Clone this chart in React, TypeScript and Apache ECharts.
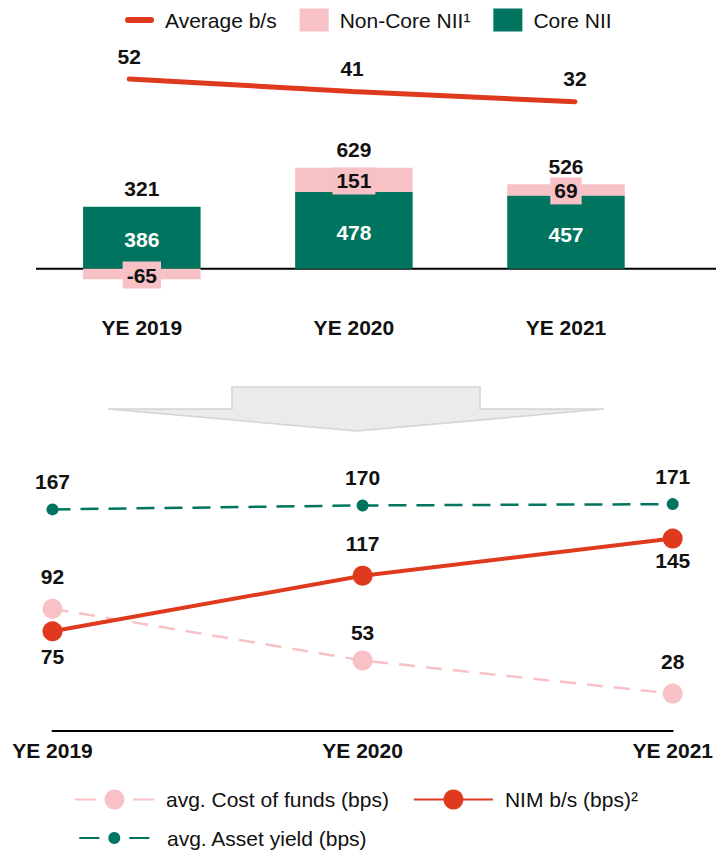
import React, { useEffect, useRef } from 'react';
import * as echarts from 'echarts';

// ---- data ----
const years = ['YE 2019', 'YE 2020', 'YE 2021'];
const avgBs = [52, 41, 32];
const coreNii = [386, 478, 457];
const nonCoreNii = [-65, 151, 69];
const totalNii = [321, 629, 526];
const costOfFunds = [92, 53, 28];
const nimBs = [75, 117, 145];
const assetYield = [167, 170, 171];

const RED = '#E03A1E';
const GREEN = '#00745E';
const PINK = '#F8C1C6';
const INK = '#111111';
const FONT = '"Liberation Sans", Arial, Helvetica, sans-serif';

const S_AVG = 'Average b/s';
const S_NONCORE = 'Non-Core NII\u00B9';
const S_CORE = 'Core NII';
const S_COST = 'avg. Cost of funds (bps)';
const S_NIM = 'NIM b/s (bps)\u00B2';
const S_ASSET = 'avg. Asset yield (bps)';

const boldLabel = { fontFamily: FONT, fontWeight: 'bold' as const, fontSize: 21, color: INK };

export default function App() {
  const ref = useRef<HTMLDivElement>(null);

  useEffect(() => {
    document.body.style.margin = '0';
    if (!ref.current) return;
    const chart = echarts.init(ref.current, undefined, { renderer: 'svg' });

    const positiveTop = coreNii.map((c, i) => c + Math.max(nonCoreNii[i], 0));
    const nimPlace: [string, number][] = [['bottom', 5], ['top', 12], ['bottom', 1]];
    const costPlace: [string, number][] = [['top', 12], ['top', 7], ['top', 12]];

    const arrow = {
      type: 'polygon',
      id: 'arrow',
      shape: {
        points: [
          [232, 387], [480, 387], [480, 409], [604, 409],
          [357, 431], [108, 409], [232, 409],
        ],
      },
      style: { fill: '#EBEBEB', stroke: '#D4D4D4', lineWidth: 1.5 },
      silent: true,
    };

    const option: any = {
      animation: false,
      textStyle: { fontFamily: FONT },
      grid: [
        { left: 17.8, width: 668.6, top: 75.6, height: 28.4 },
        { left: 35.8, width: 636.2, top: 76, height: 225 },
        { left: 52.5, width: 622.5, top: 492.2, height: 238.5 },
      ],
      xAxis: [
        { gridIndex: 0, type: 'category', data: years, show: false },
        {
          gridIndex: 1, type: 'category', data: years,
          axisLine: { show: false, onZero: false }, axisTick: { show: false },
          axisLabel: { ...boldLabel, margin: 16, interval: 0 },
        },
        {
          gridIndex: 2, type: 'category', data: years, boundaryGap: false,
          axisLine: { onZero: false, lineStyle: { color: '#000', width: 2 } },
          axisTick: { show: false },
          axisLabel: { ...boldLabel, margin: 9, interval: 0 },
        },
      ],
      yAxis: [
        { gridIndex: 0, type: 'value', min: 30, max: 55, show: false },
        { gridIndex: 1, type: 'value', min: -200, max: 1200, show: false },
        { gridIndex: 2, type: 'value', min: 0, max: 180, show: false },
      ],
      legend: [
        {
          top: 8.5, left: 125, padding: 0, itemWidth: 29, itemHeight: 23, itemGap: 23,
          selectedMode: false,
          textStyle: { fontFamily: FONT, fontSize: 21, color: INK, padding: [0, 0, 0, 6] },
          data: [
            {
              name: S_AVG,
              icon: 'path://M3,0H26A3,3 0 0 1 26,6H3A3,3 0 0 1 3,0Z',
              itemStyle: { color: RED },
            },
            { name: S_NONCORE, icon: 'rect' },
            { name: S_CORE, icon: 'rect' },
          ],
        },
        {
          top: 789, left: 74, padding: 0, itemWidth: 79, itemHeight: 25, itemGap: 24,
          selectedMode: false,
          textStyle: { fontFamily: FONT, fontSize: 21, color: INK, padding: [0, 0, 0, 7] },
          data: [
            { name: S_COST, lineStyle: { type: [21, 37] } },
            { name: S_NIM },
          ],
        },
        {
          top: 827.5, left: 78.3, padding: 0, itemWidth: 70, itemHeight: 15, itemGap: 24,
          selectedMode: false,
          textStyle: { fontFamily: FONT, fontSize: 21, color: INK, padding: [0, 0, 0, 12.7] },
          data: [{ name: S_ASSET, lineStyle: { type: [20, 30] } }],
        },
      ],
      graphic: [arrow],
      series: [
        {
          name: S_AVG, type: 'line', xAxisIndex: 0, yAxisIndex: 0, data: avgBs,
          symbol: 'circle', symbolSize: 1,
          itemStyle: { color: RED },
          lineStyle: { color: RED, width: 5, cap: 'round' },
          label: { show: true, position: 'top', distance: 12, ...boldLabel },
          z: 3,
        },
        {
          name: S_CORE, type: 'bar', xAxisIndex: 1, yAxisIndex: 1, stack: 'nii', data: coreNii,
          barWidth: 117.5,
          itemStyle: { color: GREEN },
          label: { show: true, position: 'inside', offset: [0, 2], ...boldLabel, color: '#FFFFFF' },
        },
        {
          name: S_NONCORE, type: 'bar', xAxisIndex: 1, yAxisIndex: 1, stack: 'nii', data: nonCoreNii,
          barWidth: 117.5,
          itemStyle: { color: PINK },
          label: {
            show: true, position: 'inside', offset: [0, 1], ...boldLabel,
            backgroundColor: PINK, padding: [3, 4, 3, 4],
          },
        },
        {
          name: 'Total NII', type: 'scatter', xAxisIndex: 1, yAxisIndex: 1, data: positiveTop,
          symbolSize: 1, silent: true,
          itemStyle: { color: 'rgba(0,0,0,0)', opacity: 1 },
          label: {
            show: true, position: 'top', distance: 7, ...boldLabel, opacity: 1,
            formatter: (p: any) => String(totalNii[p.dataIndex]),
          },
        },
        {
          name: S_COST, type: 'line', xAxisIndex: 2, yAxisIndex: 2,
          data: costOfFunds.map((v, i) => ({
            value: v,
            label: { position: costPlace[i][0], distance: costPlace[i][1] },
          })),
          symbol: 'circle', symbolSize: 20,
          itemStyle: { color: PINK },
          lineStyle: { color: PINK, width: 2.5, type: [16, 11] },
          label: { show: true, ...boldLabel },
        },
        {
          name: S_NIM, type: 'line', xAxisIndex: 2, yAxisIndex: 2,
          data: nimBs.map((v, i) => ({
            value: v,
            label: { position: nimPlace[i][0], distance: nimPlace[i][1] },
          })),
          symbol: 'circle', symbolSize: 20,
          itemStyle: { color: RED },
          lineStyle: { color: RED, width: 4 },
          label: { show: true, ...boldLabel },
        },
        {
          name: S_ASSET, type: 'line', xAxisIndex: 2, yAxisIndex: 2, data: assetYield,
          symbol: 'circle', symbolSize: 12,
          itemStyle: { color: GREEN },
          lineStyle: { color: GREEN, width: 2.5, type: [18, 10] },
          label: { show: true, position: 'top', distance: 11, ...boldLabel },
        },
      ],
    };

    chart.setOption(option);

    const y0 = chart.convertToPixel({ yAxisIndex: 1 }, 0) as unknown as number;
    chart.setOption({
      graphic: [
        arrow,
        {
          type: 'line', id: 'baseline', z: 2,
          shape: { x1: 36, y1: y0, x2: 716, y2: y0 },
          style: { stroke: '#000000', lineWidth: 2 },
          silent: true,
        },
      ],
    });

    return () => chart.dispose();
  }, []);

  return <div ref={ref} style={{ width: 716, height: 850 }} />;
}
